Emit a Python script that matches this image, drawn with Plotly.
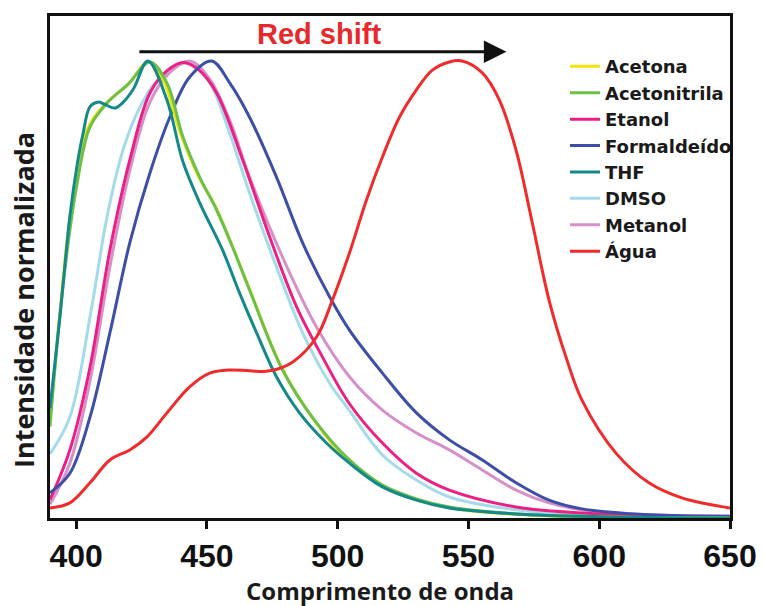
import plotly.graph_objects as go

# ---------------- data ----------------
series_names = ["Acetona", "Acetonitrila", "Etanol", "Formaldeído", "THF", "DMSO", "Metanol", "Água"]
series_colors = ["#f1e40a", "#6cc04a", "#ec1f84", "#3d4ea8", "#14898a", "#a3dbea", "#d690c9", "#ef2b2b"]

acetona_x = [390, 393.8, 397, 400, 403, 406, 411, 420, 427.6, 433, 440, 447, 453, 466, 478.5, 491.5, 504, 517, 530, 543, 568, 600, 650]
acetona_y = [0.22, 0.45, 0.63, 0.75, 0.83, 0.87, 0.905, 0.95, 0.998, 0.962, 0.84, 0.745, 0.685, 0.505, 0.33, 0.21, 0.125, 0.07, 0.04, 0.022, 0.008, 0.002, 0.0]

acetonitrila_x = [390, 395, 400.3, 405.3, 411.8, 420, 428.2, 434.7, 440.8, 447.3, 453.7, 459.8, 466.3, 478.9, 491.9, 504.5, 517.1, 530.1, 542.7, 568, 600, 650]
acetonitrila_y = [0.2, 0.51, 0.73, 0.856, 0.908, 0.95, 0.998, 0.952, 0.834, 0.745, 0.674, 0.593, 0.499, 0.324, 0.208, 0.127, 0.072, 0.042, 0.024, 0.009, 0.003, 0.0]

etanol_x = [390, 397.6, 405.3, 412.9, 420.5, 428.2, 435, 441, 447, 453.7, 463.7, 474.0, 484.3, 494.2, 504.5, 517.1, 530.1, 542.7, 568.2, 593.4, 619, 650]
etanol_y = [0.04, 0.149, 0.33, 0.586, 0.783, 0.93, 0.98, 0.997, 0.98, 0.93, 0.783, 0.615, 0.462, 0.352, 0.25, 0.164, 0.098, 0.061, 0.024, 0.011, 0.005, 0.002]

formaldeido_x = [390, 397.6, 405.3, 412.9, 420.5, 428.2, 435.8, 443.4, 451.8, 458.7, 466.3, 476.6, 486.6, 496.9, 504.5, 517.1, 530.1, 542.7, 555.3, 568.2, 580.8, 593.4, 619, 650]
formaldeido_y = [0.055, 0.098, 0.221, 0.405, 0.602, 0.755, 0.877, 0.965, 1.0, 0.952, 0.877, 0.746, 0.602, 0.484, 0.411, 0.317, 0.23, 0.171, 0.127, 0.077, 0.039, 0.02, 0.007, 0.004]

thf_x = [390, 393.8, 397.6, 400.3, 402.6, 405.3, 408.3, 411, 414.8, 418, 422, 427.4, 434.7, 440.8, 447.3, 456.0, 462.5, 469.0, 476.6, 485.4, 495.7, 504.5, 517.1, 530.1, 542.7, 568.2, 600, 650]
thf_y = [0.24, 0.44, 0.66, 0.77, 0.84, 0.9, 0.91, 0.905, 0.897, 0.91, 0.94, 1.0, 0.915, 0.78, 0.689, 0.586, 0.492, 0.405, 0.309, 0.23, 0.164, 0.12, 0.068, 0.039, 0.022, 0.009, 0.003, 0.0]

dmso_x = [390, 397.6, 405.3, 411.8, 417.9, 424.4, 432.0, 443.4, 451.1, 458.7, 466.3, 476.6, 486.6, 496.9, 504.5, 517.1, 530.1, 542.7, 568.2, 593.4, 650]
dmso_y = [0.14, 0.221, 0.44, 0.659, 0.805, 0.899, 0.963, 0.996, 0.952, 0.842, 0.711, 0.549, 0.405, 0.295, 0.235, 0.138, 0.083, 0.046, 0.018, 0.007, 0.002]

metanol_x = [390, 397.6, 405.3, 412.9, 420.5, 428.2, 435.8, 443.4, 451.1, 458.7, 466.3, 478.9, 491.9, 504.5, 517.1, 530.1, 542.7, 555.3, 568.2, 580.8, 593.4, 619, 650]
metanol_y = [0.03, 0.12, 0.3, 0.55, 0.76, 0.91, 0.975, 1.0, 0.96, 0.87, 0.746, 0.571, 0.418, 0.309, 0.236, 0.186, 0.149, 0.105, 0.061, 0.033, 0.018, 0.007, 0.004]

agua_x = [390, 397.6, 405.3, 412.9, 420.5, 427.0, 434.7, 443.4, 451.1, 458.7, 466.3, 474.0, 482.7, 491.9, 498.0, 504.5, 511.0, 517.1, 523.6, 530.1, 536.2, 542.7, 547.6, 555.3, 561.8, 568.2, 574.4, 580.8, 587.3, 593.4, 606.4, 619.0, 631.6, 650]
agua_y = [0.022, 0.033, 0.077, 0.127, 0.149, 0.177, 0.23, 0.287, 0.317, 0.324, 0.322, 0.322, 0.341, 0.396, 0.477, 0.58, 0.696, 0.79, 0.877, 0.937, 0.98, 0.998, 1.0, 0.974, 0.915, 0.805, 0.646, 0.477, 0.352, 0.258, 0.142, 0.077, 0.044, 0.022]

x_ticks = [400, 450, 500, 550, 600, 650]
x_range = [390, 650]
y_range = [0, 1.0985]

arrow_start = (423.6, 1.02)
arrow_end = (564.5, 1.02)
arrow_label = "Red shift"
arrow_label_pos = (493.0, 1.059)
x_title = "Comprimento de onda"
y_title = "Intensidade normalizada"

data = {
    "Acetona": (acetona_x, acetona_y),
    "Acetonitrila": (acetonitrila_x, acetonitrila_y),
    "Etanol": (etanol_x, etanol_y),
    "Formaldeído": (formaldeido_x, formaldeido_y),
    "THF": (thf_x, thf_y),
    "DMSO": (dmso_x, dmso_y),
    "Metanol": (metanol_x, metanol_y),
    "Água": (agua_x, agua_y),
}

draw_order = ["DMSO", "Metanol", "Etanol", "Formaldeído", "Acetona", "Acetonitrila", "THF", "Água"]

fig = go.Figure()
for name in draw_order:
    i = series_names.index(name)
    xs, ys = data[name]
    fig.add_trace(go.Scatter(
        x=xs, y=ys, mode="lines", name=name,
        line=dict(color=series_colors[i], width=3, shape="spline", smoothing=1.0),
        legendrank=i + 1,
    ))

fig.add_annotation(
    x=arrow_end[0], y=arrow_end[1], ax=arrow_start[0], ay=arrow_start[1],
    xref="x", yref="y", axref="x", ayref="y",
    showarrow=True, arrowhead=2, arrowsize=1.5, arrowwidth=3, arrowcolor="#111111", text="",
)
fig.add_annotation(
    x=arrow_label_pos[0], y=arrow_label_pos[1], xref="x", yref="y",
    text="<b>" + arrow_label + "</b>", showarrow=False,
    font=dict(family="Liberation Sans, Arial, sans-serif", size=29, color="#e8282b"),
)
# axis titles
fig.add_annotation(
    x=(380 - 50) / 680, y=(518 - 590) / 502, xref="paper", yref="paper",
    text="<b>" + x_title + "</b>", showarrow=False, xanchor="center", yanchor="middle",
    font=dict(family="Open Sans, sans-serif", size=24, color="#1a1a1a"),
)
fig.add_annotation(
    x=(24 - 50) / 680, y=(518 - 300) / 502, xref="paper", yref="paper",
    text="<b>" + y_title + "</b>", showarrow=False, textangle=-90,
    xanchor="center", yanchor="middle",
    font=dict(family="Open Sans, sans-serif", size=27, color="#1a1a1a"),
)

fig.update_layout(
    width=764, height=606,
    margin=dict(l=50, r=34, t=16, b=88),
    paper_bgcolor="white", plot_bgcolor="white",
    showlegend=True,
    legend=dict(
        x=(565 - 50) / 680, y=0.936, xanchor="left", yanchor="top",
        font=dict(family="DejaVu Sans, sans-serif", size=18, color="#1a1a1a", weight="bold"),
        bgcolor="rgba(0,0,0,0)", itemwidth=30,
    ),
    xaxis=dict(
        range=x_range, tickvals=x_ticks, ticks="outside", ticklen=8, tickwidth=2.5,
        tickcolor="#111111", showline=True, linecolor="#111111", linewidth=3, mirror=True,
        showgrid=False, zeroline=False, automargin=False,
        tickfont=dict(family="Liberation Sans Narrow, Arial Narrow, Liberation Sans, sans-serif", size=32, color="#111111", weight="bold"),
    ),
    yaxis=dict(
        range=y_range, showticklabels=False, ticks="", showline=True, linecolor="#111111",
        linewidth=3, mirror=True, showgrid=False, zeroline=False, automargin=False,
    ),
)

fig.write_html("out.html")
